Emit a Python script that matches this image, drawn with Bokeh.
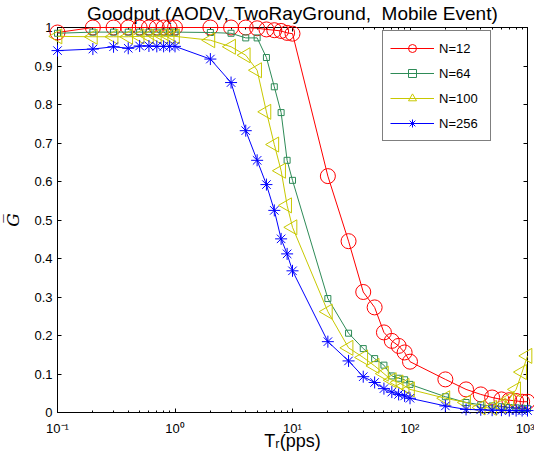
import math
from bokeh.plotting import figure
from bokeh.models import (LogAxis, LinearAxis, FixedTicker, CustomJSTickFormatter,
                          Range1d, Legend, LegendItem, ColumnDataSource)
from bokeh.embed import file_html
from bokeh.resources import INLINE

# ---- data ----
tr_pps = [0.1, 0.2, 0.3, 0.4, 0.5, 0.6, 0.7, 0.8, 0.9, 1,
          2, 3, 4, 5, 6, 7, 8, 9, 10,
          20, 30, 40, 50, 60, 70, 80, 90, 100,
          200, 300, 400, 500, 600, 700, 800, 900, 1000]

g_n12 = [0.987, 1.0, 1.0, 1.0, 1.0, 1.0, 1.0, 1.0, 1.0, 1.0,
         1.0, 1.0, 1.0, 0.998, 0.995, 0.993, 0.991, 0.986, 0.984,
         0.614, 0.445, 0.313, 0.273, 0.208, 0.186, 0.173, 0.156, 0.132,
         0.086, 0.060, 0.047, 0.039, 0.034, 0.032, 0.030, 0.028, 0.028]

g_n64 = [0.985, 0.988, 0.988, 0.988, 0.988, 0.988, 0.988, 0.988, 0.988, 0.988,
         0.987, 0.985, 0.973, 0.973, 0.922, 0.846, 0.779, 0.655, 0.603,
         0.296, 0.206, 0.166, 0.140, 0.123, 0.095, 0.089, 0.085, 0.073,
         0.041, 0.026, 0.020, 0.017, 0.015, 0.013, 0.012, 0.011, 0.010]

g_n100 = [0.977, 0.976, 0.976, 0.976, 0.977, 0.977, 0.977, 0.977, 0.977, 0.977,
          0.967, 0.950, 0.928, 0.889, 0.781, 0.696, 0.628, 0.538, 0.481,
          0.262, 0.168, 0.143, 0.121, 0.101, 0.084, 0.078, 0.069, 0.060,
          0.037, 0.026, 0.013, 0.012, 0.018, 0.035, 0.060, 0.105, 0.147]

g_n256 = [0.940, 0.944, 0.950, 0.946, 0.952, 0.952, 0.951, 0.951, 0.951, 0.951,
          0.918, 0.857, 0.732, 0.655, 0.592, 0.525, 0.451, 0.412, 0.368,
          0.184, 0.134, 0.093, 0.078, 0.062, 0.053, 0.047, 0.043, 0.037,
          0.017, 0.008, 0.007, 0.006, 0.006, 0.005, 0.005, 0.005, 0.005]

series_labels = ["N=12", "N=64", "N=100", "N=256"]
x_major_ticks = [0.1, 1, 10, 100, 1000]
y_ticks = [0, 0.1, 0.2, 0.3, 0.4, 0.5, 0.6, 0.7, 0.8, 0.9, 1.0]

title_text = "Goodput (AODV, TwoRayGround,\u00a0 Mobile Event)"
x_label = "T\u1d63(pps)"
y_label = "G\u0305"

# ---- styles ----
colors = ["#FF0000", "#2E8B57", "#C8C800", "#0000FF"]
markers = ["circle", "square", "triangle", "asterisk"]
msizes = [15, 6, 15, 12]
mangles = [0, 0, math.pi / 2, 0]

x_minor_ticks = [m * 10.0 ** k for k in range(-1, 3) for m in range(2, 10)]

p = figure(frame_width=470, frame_height=385,
           x_axis_type="log", x_range=Range1d(0.1, 1000), y_range=Range1d(0, 1),
           output_backend="svg", toolbar_location=None,
           min_border_left=57, min_border_right=7, min_border_top=27, min_border_bottom=52,
           title=title_text, background_fill_color="white", border_fill_color="white")

p.title.text_font = "Liberation Sans"
p.title.text_font_size = "19px"
p.title.text_font_style = "normal"
p.title.text_color = "black"
p.title.align = "center"
p.title.vertical_align = "top"
p.title.standoff = 3

p.grid.visible = False
p.outline_line_color = "black"
p.outline_line_width = 1

xt = FixedTicker(ticks=x_major_ticks, minor_ticks=x_minor_ticks)
yt = FixedTicker(ticks=y_ticks, minor_ticks=[])

sup = CustomJSTickFormatter(code="""
const e = Math.round(Math.log10(tick));
const m = {'-':'\u207b','0':'\u2070','1':'\u00b9','2':'\u00b2','3':'\u00b3','4':'\u2074',
           '5':'\u2075','6':'\u2076','7':'\u2077','8':'\u2078','9':'\u2079'};
return '10' + String(e).split('').map(c => m[c]).join('');
""")
yfmt = CustomJSTickFormatter(code="return String(Math.round(tick*10)/10);")


def style_axis(ax, labels=True):
    ax.axis_line_color = "black"
    ax.major_tick_line_color = "black"
    ax.minor_tick_line_color = "black"
    ax.major_tick_in = 4
    ax.major_tick_out = 0
    ax.minor_tick_in = 2
    ax.minor_tick_out = 0
    ax.major_label_text_font = "Liberation Sans"
    if labels:
        ax.major_label_text_color = "black"
        ax.major_label_text_font_size = "13px"
    else:
        ax.major_label_text_color = None
        ax.major_label_text_font_size = "0px"
        ax.major_label_standoff = 0


xa = p.xaxis[0]
xa.ticker = xt
xa.formatter = sup
style_axis(xa)
xa.major_label_standoff = 8
xa.axis_label = x_label
xa.axis_label_text_font = "Liberation Sans"
xa.axis_label_text_font_size = "18px"
xa.axis_label_text_font_style = "normal"
xa.axis_label_text_color = "black"
xa.axis_label_standoff = -8

ya = p.yaxis[0]
ya.ticker = yt
ya.formatter = yfmt
style_axis(ya)
ya.minor_tick_in = 0
ya.major_label_standoff = 5
ya.axis_label = y_label
ya.axis_label_text_font = "DejaVu Serif"
ya.axis_label_text_font_size = "17px"
ya.axis_label_text_font_style = "italic"
ya.axis_label_text_color = "black"
ya.axis_label_standoff = 8

top = LogAxis(ticker=xt, formatter=sup)
style_axis(top, labels=False)
p.add_layout(top, "above")

right = LinearAxis(ticker=yt, formatter=yfmt)
style_axis(right, labels=False)
right.minor_tick_in = 0
p.add_layout(right, "right")

series = [g_n12, g_n64, g_n100, g_n256]
items = []
for vals, lbl, c, mk, ms, ang in zip(series, series_labels, colors, markers, msizes, mangles):
    src = ColumnDataSource(dict(x=tr_pps, y=vals, a=[ang] * len(tr_pps)))
    lr = p.line("x", "y", source=src, line_color=c, line_width=1, level="overlay")
    sr = p.scatter("x", "y", source=src, marker=mk, size=ms, angle="a", line_color=c,
                   fill_color=None, line_width=1, level="overlay")
    items.append(LegendItem(label=lbl, renderers=[lr, sr]))

legend = Legend(items=items, location=(325, 271), orientation="vertical",
                glyph_width=44, glyph_height=20, label_height=20, label_width=44,
                label_standoff=5, spacing=5, padding=7,
                label_text_font="Liberation Sans", label_text_font_size="13px",
                label_text_color="black",
                border_line_color="black", border_line_width=1,
                background_fill_color="white", background_fill_alpha=1.0)
p.add_layout(legend)

open("out.html", "w").write(file_html(p, INLINE))
